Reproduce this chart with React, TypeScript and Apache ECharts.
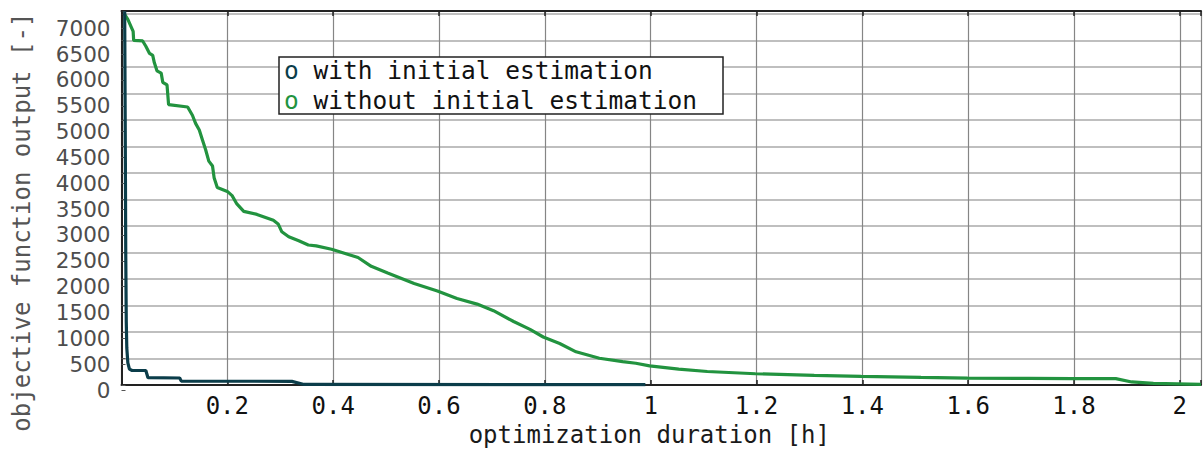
import React, { useEffect, useRef } from 'react';
import * as echarts from 'echarts';

const seriesNames = ['with initial estimation', 'without initial estimation'];

// optimization duration [h] and objective function output [-]
const withX = [0.006, 0.007, 0.008, 0.009, 0.010, 0.012, 0.015, 0.020, 0.046, 0.050, 0.110, 0.113, 0.322, 0.345, 0.990];
const withY = [7050, 5000, 2500, 1200, 700, 420, 300, 275, 275, 140, 134, 75, 71, 12, 8];

const withoutX = [
  0.006, 0.012, 0.018, 0.022, 0.023, 0.040, 0.046, 0.053, 0.059, 0.062, 0.067, 0.075, 0.078, 0.086, 0.089,
  0.125, 0.134, 0.140, 0.147, 0.153, 0.159, 0.165, 0.172, 0.175, 0.181, 0.200, 0.209, 0.218, 0.231, 0.256,
  0.287, 0.296, 0.303, 0.316, 0.335, 0.353, 0.368, 0.397, 0.447, 0.472, 0.503, 0.553, 0.597, 0.634, 0.672,
  0.703, 0.741, 0.772, 0.797, 0.828, 0.859, 0.903, 0.947, 0.972, 0.998, 1.053, 1.107, 1.198, 1.309, 1.398,
  1.511, 1.599, 1.714, 1.798, 1.879, 1.909, 1.950, 2.040,
];
const withoutY = [
  6990, 6900, 6763, 6670, 6503, 6491, 6391, 6256, 6218, 6083, 5927, 5884, 5711, 5661, 5289,
  5246, 5090, 4936, 4811, 4625, 4439, 4224, 4131, 3913, 3727, 3653, 3573, 3417, 3276, 3220,
  3108, 3040, 2891, 2798, 2723, 2643, 2625, 2562, 2407, 2240, 2116, 1918, 1775, 1632, 1528,
  1404, 1199, 1050, 907, 784, 628, 506, 442, 412, 362, 300, 257, 214, 183, 164,
  145, 133, 127, 121, 121, 59, 34, 15,
];

const xTickStep = 0.2;
const yTickStep = 500;
const yLabelMax = 7000;
const xTitle = 'optimization duration [h]';
const yTitle = 'objective function output [-]';

const darkColor = '#0b3d4a';
const greenColor = '#22933f';
const mono = 'DejaVu Sans Mono';

export default function App() {
  const ref = useRef<HTMLDivElement>(null);

  useEffect(() => {
    const chart = echarts.init(ref.current as HTMLDivElement, null, { renderer: 'svg' });
    const xMax = 2.04;
    const xFormatter = (v: number) => {
      const r = Math.round(v * 10) / 10;
      if (Math.abs(v - r) > 1e-6 || r === 0) return '';
      return String(r);
    };
    const yFormatter = (v: number) => String(Math.round(v));
    chart.setOption({
      animation: false,
      backgroundColor: '#ffffff',
      grid: [
        { left: 121.5, right: -6, top: 11, bottom: 61.5 },
        { left: 121.5, right: -6, top: 28.3, bottom: 62 },
      ],
      legend: {
        orient: 'vertical',
        left: 279,
        top: 57,
        icon: 'none',
        itemWidth: 0,
        itemHeight: 24,
        itemGap: 5,
        selectedMode: false,
        backgroundColor: '#ffffff',
        borderColor: '#222222',
        borderWidth: 1.5,
        borderRadius: 0,
        padding: [1, 26, 1, 0],
        data: seriesNames,
        formatter: (name: string) => `{${name === seriesNames[0] ? 'a' : 'b'}|o} ${name}`,
        textStyle: {
          fontFamily: mono,
          fontSize: 24.5,
          lineHeight: 24,
          color: '#111111',
          rich: {
            a: { color: darkColor, fontFamily: mono, fontSize: 24.5, lineHeight: 24 },
            b: { color: greenColor, fontFamily: mono, fontSize: 24.5, lineHeight: 24 },
          },
        },
      },
      xAxis: [
        {
          gridIndex: 0,
          type: 'value',
          position: 'bottom',
          offset: 2,
          min: 0,
          max: xMax,
          interval: xTickStep,
          axisLine: { show: true, lineStyle: { color: '#222222', width: 2 } },
          axisTick: { show: true, inside: true, length: 5, lineStyle: { color: '#222222', width: 1.5 } },
          axisLabel: { formatter: xFormatter, color: '#111111', fontFamily: mono, fontSize: 24, margin: 7 },
          splitLine: { show: true, lineStyle: { color: '#858585', width: 1.2 } },
          name: xTitle,
          nameLocation: 'middle',
          nameGap: 32,
          nameTextStyle: { color: '#1a1a1a', fontFamily: mono, fontSize: 24, padding: [0, 24, 0, 0] },
        },
        {
          gridIndex: 0,
          type: 'value',
          position: 'top',
          min: 0,
          max: xMax,
          interval: xTickStep,
          axisLine: { show: true, lineStyle: { color: '#222222', width: 2 } },
          axisTick: { show: true, inside: true, length: 5, lineStyle: { color: '#222222', width: 1.5 } },
          axisLabel: { show: false },
          splitLine: { show: false },
        },
        { gridIndex: 1, type: 'value', show: false, min: 0, max: 1 },
      ],
      yAxis: [
        {
          gridIndex: 0,
          type: 'value',
          min: 0,
          max: 7056,
          interval: yTickStep,
          axisLine: { show: true, lineStyle: { color: '#222222', width: 2 } },
          axisTick: { show: true, inside: true, length: 4, lineStyle: { color: '#555555' } },
          axisLabel: { show: false },
          splitLine: { show: true, lineStyle: { color: '#aaaaaa', width: 1.5 } },
        },
        {
          gridIndex: 1,
          type: 'value',
          min: 0,
          max: yLabelMax,
          interval: yTickStep,
          axisLine: { show: false },
          axisTick: { show: true, inside: true, length: 4, lineStyle: { color: '#555555' } },
          axisLabel: { formatter: yFormatter, color: '#4d4d4d', fontFamily: 'DejaVu Sans', fontSize: 21.5, margin: 11 },
          splitLine: { show: false },
          name: yTitle,
          nameLocation: 'middle',
          nameRotate: 90,
          nameGap: 88,
          nameTextStyle: { color: '#555555', fontFamily: mono, fontSize: 24, padding: [0, 26, 0, 0] },
        },
      ],
      series: [
        {
          name: seriesNames[0],
          type: 'line',
          xAxisIndex: 0,
          yAxisIndex: 0,
          data: withX.map((x, i) => [x, withY[i]]),
          showSymbol: false,
          symbol: 'none',
          lineStyle: { color: darkColor, width: 3.2 },
          itemStyle: { color: darkColor },
          z: 4,
        },
        {
          name: seriesNames[1],
          type: 'line',
          xAxisIndex: 0,
          yAxisIndex: 0,
          data: withoutX.map((x, i) => [x, withoutY[i]]),
          showSymbol: false,
          symbol: 'none',
          lineStyle: { color: greenColor, width: 3.2 },
          itemStyle: { color: greenColor },
          z: 3,
        },
      ],
    });
    return () => chart.dispose();
  }, []);

  return (
    <div
      ref={ref}
      style={{ position: 'absolute', left: 0, top: 0, width: 1204, height: 452, background: '#ffffff' }}
    />
  );
}
